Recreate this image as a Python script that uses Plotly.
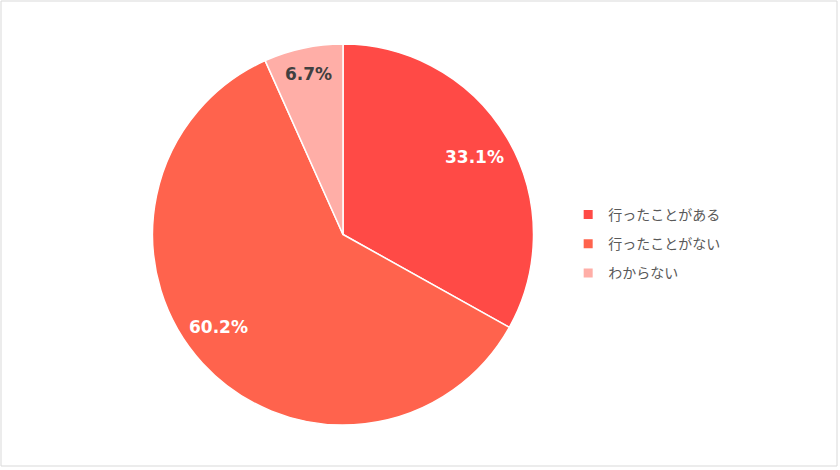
import math
import plotly.graph_objects as go

labels = ["行ったことがある", "行ったことがない", "わからない"]
values = [33.1, 60.2, 6.7]
colors = ["#FF4A46", "#FF634D", "#FFAEA7"]
text_colors = ["#FFFFFF", "#FFFFFF", "#404040"]

W, H = 840, 470
cx, cy, r = 343, 234.5, 190.5
label_r = [0.80, 0.814, 0.86]
label_angle_shift = [0.0, 6.0, 0.0]  # degrees

fig = go.Figure()
fig.add_trace(go.Pie(
    labels=labels,
    values=values,
    sort=False,
    direction="clockwise",
    rotation=0,
    marker=dict(colors=colors, line=dict(color="#FFFFFF", width=1.5)),
    textinfo="none",
    hoverinfo="label+percent",
    showlegend=False,
    domain=dict(x=[(cx - r) / W, (cx + r) / W], y=[1 - (cy + r) / H, 1 - (cy - r) / H]),
))

# legend entries
for lab, col in zip(labels, colors):
    fig.add_trace(go.Scatter(
        x=[None], y=[None], mode="markers", name=lab, legendgroup=lab,
        marker=dict(symbol="square", size=9, color=col),
        showlegend=True,
    ))

# data labels placed at slice mid-angles
total = sum(values)
annotations = []
cum = 0.0
for v, tc, lr, sh in zip(values, text_colors, label_r, label_angle_shift):
    mid = (cum + v / 2) / total * 2 * math.pi + math.radians(sh)
    cum += v
    px = cx + lr * r * math.sin(mid)
    py = cy - lr * r * math.cos(mid)
    annotations.append(dict(
        x=px / W, y=1 - py / H, xref="paper", yref="paper",
        text=f"<b>{v:.1f}%</b>", showarrow=False,
        font=dict(size=17, color=tc, family="DejaVu Sans"),
        xanchor="center", yanchor="middle",
    ))

fig.update_layout(
    width=W, height=H,
    margin=dict(l=0, r=0, t=0, b=0),
    paper_bgcolor="#FFFFFF",
    plot_bgcolor="#FFFFFF",
    font=dict(family="Noto Sans CJK JP"),
    xaxis=dict(visible=False),
    yaxis=dict(visible=False),
    legend=dict(
        x=0.6764, y=0.481, xanchor="left", yanchor="middle",
        font=dict(size=14, color="#595959", family="Noto Sans CJK JP"),
        itemwidth=30, tracegroupgap=8,
    ),
    annotations=annotations,
    shapes=[dict(type="rect", xref="paper", yref="paper",
                 x0=1 / W, x1=837 / W, y0=1 - 466 / H, y1=1 - 1 / H,
                 line=dict(color="#D9D9D9", width=1))],
)

fig.write_html("out.html", config={"displayModeBar": False},
               post_script="document.body.style.margin='0';document.body.style.padding='0';")
